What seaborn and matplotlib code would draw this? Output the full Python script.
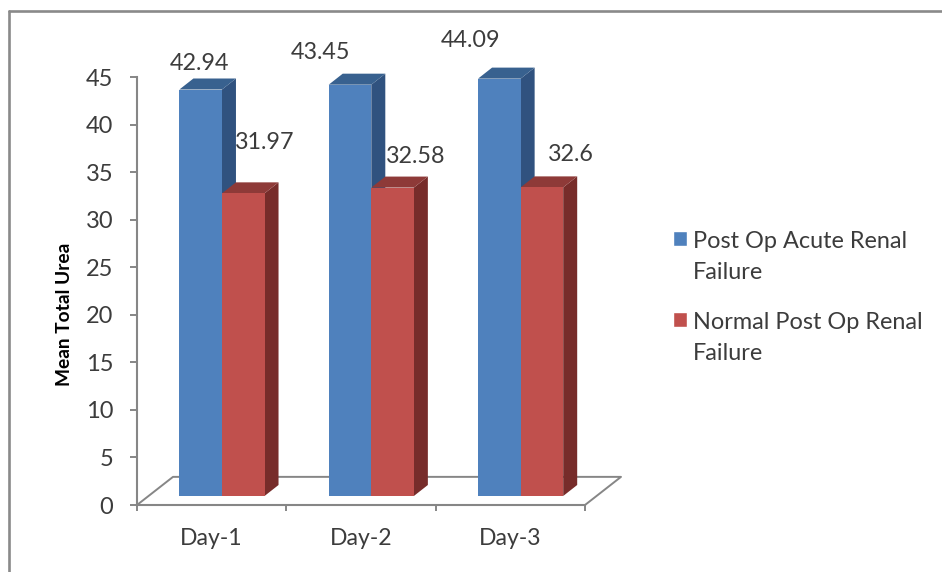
import matplotlib
matplotlib.use("Agg")
import matplotlib.pyplot as plt
from matplotlib.lines import Line2D
from matplotlib.patches import Polygon
import pandas as pd
import seaborn as sns

days = ["Day-1", "Day-2", "Day-3"]
series_a = "Post Op Acute Renal\nFailure"
series_b = "Normal Post Op Renal\nFailure"
values_a = [42.94, 43.45, 44.09]
values_b = [31.97, 32.58, 32.6]
label_a = ["42.94", "43.45", "44.09"]
label_b = ["31.97", "32.58", "32.6"]
y_ticks = list(range(0, 50, 5))

W, H = 942, 572
FONT = "Lato"
TXT = "#3c3c3c"
GRID = "#868686"
BLUE, RED = "#4F81BD", "#C0504D"
BLUE_SIDE, RED_SIDE = "#30527F", "#772C2A"
BLUE_TOP, RED_TOP = "#38618F", "#8E3A38"

sns.set_theme(style="white")
plt.rcParams["font.family"] = [FONT, "DejaVu Sans"]

df = pd.DataFrame({
    "day": days * 2,
    "value": values_a + values_b,
    "series": [series_a] * 3 + [series_b] * 3,
})

fig = plt.figure(figsize=(W / 100, H / 100), dpi=100, facecolor="white")


def rect(x0, x1, y_top, y_bot):
    return [x0 / W, 1 - y_bot / H, (x1 - x0) / W, (y_bot - y_top) / H]


# base axes: axis lines, ticks, floor
ax = fig.add_axes(rect(137, 585, 77, 505))
ax.set_xlim(-0.5, 2.5)
ax.set_ylim(0, 45)
ax.set_yticks(y_ticks)
ax.set_xticks([-0.5, 0.5, 1.5, 2.5])
ax.set_xticklabels([])
ax.set_xticks([0, 1, 2], labels=days, minor=True)
ax.tick_params(axis="y", which="major", left=True, length=5, width=1.4, color=GRID,
               labelsize=17, labelcolor=TXT, pad=12)
ax.tick_params(axis="x", which="major", bottom=True, length=4.5, width=1.4, color=GRID)
ax.tick_params(axis="x", which="minor", bottom=False, length=0, labelsize=16.6, labelcolor=TXT, pad=16.5)
for s in ("top", "right"):
    ax.spines[s].set_visible(False)
for s in ("left", "bottom"):
    ax.spines[s].set_color(GRID)
    ax.spines[s].set_linewidth(1.5)
ax.set_ylabel("Mean Total Urea", fontsize=13.8, fontweight="bold", color="black", labelpad=20)
ax.yaxis.set_label_coords((73 - 137) / 448, (505 - 314) / 428)

px_x = 3 / 448
px_y = 45 / 426
fdx, fdy = 36 * px_x, 28 * px_y
ax.plot([-0.5, -0.5 + fdx, 2.5 + fdx, 2.5], [0, fdy, fdy, 0], color=GRID, lw=1.4,
        clip_on=False, zorder=1)

# bar axes: shifted onto the chart's floor
axb = fig.add_axes(rect(147.3, 595.3, 70, 496))
axb.patch.set_alpha(0)
sns.barplot(data=df, x="day", y="value", hue="series", hue_order=[series_a, series_b],
            palette=[BLUE, RED], saturation=1, width=0.57, gap=0, ax=axb, legend=True)
axb.set_xlim(-0.5, 2.5)
axb.set_ylim(0, 45)
axb.set_axis_off()

# 3-D sides, tops and value labels
dx, dy = 14 * px_x, 11 * px_y
label_off = [(-1, 26), (-29.5, 32), (-29, 38), (21.5, 51), (23, 31), (29, 33)]
texts = label_a + label_b
styles = [(BLUE_SIDE, BLUE_TOP, 1), (RED_SIDE, RED_TOP, 3)]
bars = [b for c in axb.containers for b in c]
for i, bar in enumerate(bars):
    side, top, z = styles[i // 3]
    x0, w, h = bar.get_x(), bar.get_width(), bar.get_height()
    x1 = x0 + w
    bar.set_zorder(z + 1)
    bar.set_linewidth(0)
    axb.add_patch(Polygon([(x1, 0), (x1 + dx, dy), (x1 + dx, h + dy), (x1, h)],
                          closed=True, fc=side, ec="none", zorder=z, clip_on=False))
    axb.add_patch(Polygon([(x0, h), (x0 + dx, h + dy), (x1 + dx, h + dy), (x1, h)],
                          closed=True, fc=top, ec="none", zorder=z, clip_on=False))
    ox, oy = label_off[i]
    axb.annotate(texts[i], (x0 + w / 2, h), xytext=(ox * 0.72, oy * 0.72),
                 textcoords="offset points", ha="center", va="center",
                 fontsize=16.8, color=TXT, zorder=10, annotation_clip=False)

sns.move_legend(axb, "upper left", bbox_to_anchor=(673 / W, 1 - 231 / H),
                bbox_transform=fig.transFigure, title=None, frameon=False,
                fontsize=16.9, handlelength=0.58, handleheight=0.58, handletextpad=0.27,
                labelspacing=1.25, borderpad=0, borderaxespad=0)
leg = axb.get_legend()
for t in leg.get_texts():
    t.set_color(TXT)
    t.set_linespacing(1.57)
for p in leg.legend_handles:
    p.set_y(p.get_y() + 13.5)

# outer picture frame
for xs, ys in (([8.5, 8.5], [H, 11]), ([8.5, W], [11, 11])):
    fig.add_artist(Line2D([x / W for x in xs], [1 - y / H for y in ys],
                          color="#8a8a8a", lw=1.9, transform=fig.transFigure))

fig.savefig("out.png", dpi=100)
